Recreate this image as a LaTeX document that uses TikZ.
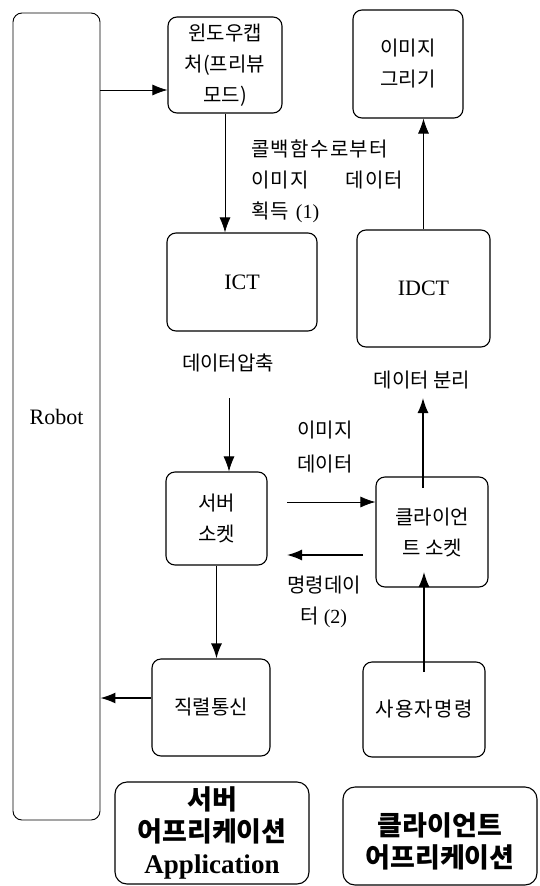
\documentclass[tikz,border=0pt]{standalone}
\usepackage{fontspec}
\setmainfont{Liberation Serif}
\newfontfamily\kr{Noto Sans CJK KR}
\newfontfamily\krs[LetterSpace=6.5]{Noto Sans CJK KR}
\usetikzlibrary{arrows.meta}
\begin{document}
\begin{tikzpicture}[x=1pt,y=-1pt,
  box/.style={draw, rounded corners=9pt, line width=1.1pt, inner sep=0pt},
  arr/.style={-{Latex[length=15pt,width=11pt]}, line width=0.8pt},
  tarr/.style={-{Latex[length=15pt,width=11pt]}, line width=1.4pt},
  kt/.style={font=\kr\fontsize{20}{31}\selectfont, align=center, inner sep=0pt},
  lt/.style={font=\rmfamily\fontsize{22}{25}\selectfont, inner sep=0pt},
  bt/.style={font=\kr\bfseries\fontsize{27}{32}\selectfont, align=center, inner sep=0pt}]
\useasboundingbox (0,0) rectangle (539,886);
% boxes
\node[box, line width=0.9pt, minimum width=87pt, minimum height=807pt, lt] (robot) at (56.5,416.5) {Robot};
\node[box, minimum width=114pt, minimum height=96pt, kt] (win) at (225,65) {윈도우캡\\처(프리뷰\\모드)};
\node[box, minimum width=110pt, minimum height=108pt, kt] (img) at (408,64) {이미지\\그리기};
\node[box, minimum width=150pt, minimum height=98pt, lt] (ict) at (242,282) {ICT};
\node[box, minimum width=133pt, minimum height=117pt, lt] (idct) at (423.5,288.5) {IDCT};
\node[box, minimum width=101pt, minimum height=93pt, kt] (ss) at (216.5,518.5) {서버\\소켓};
\node[box, minimum width=112pt, minimum height=110pt, kt] (cs) at (432,532) {클라이언\\트 소켓};
\node[box, minimum width=118pt, minimum height=97pt, kt] (ser) at (211,707.5) {직렬통신};
\node[box, minimum width=122pt, minimum height=95pt, kt, font=\krs\fontsize{20}{31}\selectfont] (uc) at (424,709.5) {사용자명령};
\node[box, rounded corners=12pt, minimum width=194pt, minimum height=102pt, bt] (sa) at (212,833) {서버\\어프리케이션\\{\rmfamily\bfseries Application}};
\node[box, rounded corners=12pt, minimum width=194pt, minimum height=98pt] (ca) at (440,836) {};
\node[bt] (catext) at (440,841) {클라이언트\\어프리케이션};
% labels
\node[kt, font=\krs\fontsize{20}{31}\selectfont, align=left, anchor=west, text width=152pt] (lbl1) at (251,181) {콜백함수로부터\\이미지\hfill 데이터\\획득 {\rmfamily (1)}};
\node[kt] (lbl2) at (228,363) {데이터압축};
\node[kt] (lbl3) at (422,380) {데이터 분리};
\node[kt, font=\kr\fontsize{20}{34}\selectfont] (lbl4) at (325,447) {이미지\\데이터};
\node[kt] (lbl5) at (324,602) {명령데이\\터 {\rmfamily (2)}};
% connector ends
\coordinate (ya) at (0,90);
\coordinate (yb) at (0,698);
\coordinate (c1) at (229,398);
\coordinate (c2) at (287,502);
\coordinate (c3) at (363,555);
\coordinate (c4) at (423,398);
\coordinate (c5) at (423,488);
\coordinate (c6) at (424,672);
\coordinate (c7) at (424,572);
% connectors
\draw[arr] (robot.east |- ya) -- (win.west |- ya);
\draw[arr] (win.south) -- (win.south |- ict.north);
\draw[arr] (c1) -- (c1 |- ss.north);
\draw[tarr] (ss.south) -- (ss.south |- ser.north);
\draw[tarr] (ser.west |- yb) -- (robot.east |- yb);
\draw[arr] (c2) -- (cs.west |- c2);
\draw[tarr] (c3) -- (c2 |- c3);
\draw[tarr] (c5) -- (c4);
\draw[arr] (idct.north) -- (idct.north |- img.south);
\draw[tarr] (c6) -- (c7);
\end{tikzpicture}
\end{document}
